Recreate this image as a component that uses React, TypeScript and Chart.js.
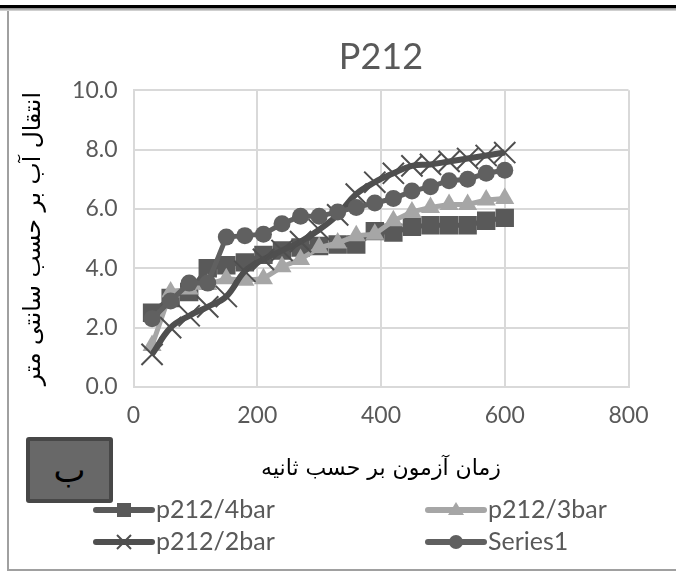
import React, { useEffect, useRef } from "react";
import { Chart, registerables } from "chart.js";

Chart.register(...registerables);

// ---- data ----
const times = [30, 60, 90, 120, 150, 180, 210, 240, 270, 300, 330, 360, 390, 420, 450, 480, 510, 540, 570, 600];
const p212_4bar = [2.5, 3.0, 3.2, 4.0, 4.1, 4.2, 4.45, 4.6, 4.7, 4.75, 4.8, 4.8, 5.25, 5.2, 5.4, 5.45, 5.45, 5.45, 5.6, 5.7];
const p212_3bar = [1.4, 3.2, 3.3, 3.45, 3.65, 3.6, 3.65, 4.05, 4.3, 4.7, 4.85, 5.1, 5.15, 5.6, 5.9, 6.05, 6.15, 6.15, 6.3, 6.35];
const p212_2bar = [1.1, 2.0, 2.4, 2.7, 3.05, 3.9, 4.3, 4.6, 4.9, 5.3, 5.8, 6.5, 6.9, 7.2, 7.45, 7.5, 7.6, 7.7, 7.8, 7.9];
const series1 = [2.3, 2.9, 3.5, 3.5, 5.05, 5.1, 5.15, 5.5, 5.75, 5.75, 5.9, 6.05, 6.2, 6.35, 6.6, 6.75, 6.95, 7.0, 7.2, 7.3];
const seriesNames = ["p212/4bar", "p212/3bar", "p212/2bar", "Series1"];
const xTicks = [0, 200, 400, 600, 800];
const yTicks = [0, 2, 4, 6, 8, 10];
const chartTitle = "P212";
const xTitle = "زمان آزمون بر حسب ثانیه";
const yTitle = "انتقال آب بر حسب سانتی متر";
const boxLabel = "ب";

const LATIN = "Lato, 'Open Sans', sans-serif";
const PERSIAN = "'DejaVu Sans', 'Noto Sans', sans-serif";

const toPoints = (ys: number[]) => times.map((t, i) => ({ x: t, y: ys[i] }));

const legendPlugin = {
  id: "cornerLegend",
  afterDraw(chart: any) {
    const ctx = chart.ctx as CanvasRenderingContext2D;
    const cols = [93, 425];
    const rows = [510, 542];
    const lineLen = 62;
    chart.data.datasets.forEach((ds: any, i: number) => {
      const x0 = cols[i % 2];
      const y = rows[Math.floor(i / 2)];
      const color = ds.borderColor;
      ctx.save();
      ctx.strokeStyle = color;
      ctx.lineWidth = 6;
      ctx.lineCap = "round";
      ctx.beginPath();
      ctx.moveTo(x0 + 3, y);
      ctx.lineTo(x0 + lineLen - 3, y);
      ctx.stroke();
      const cx = x0 + lineLen / 2;
      ctx.fillStyle = ds.pointBackgroundColor;
      const style = ds.pointStyle;
      if (style === "rect") {
        ctx.fillRect(cx - 7, y - 7, 14, 14);
      } else if (style === "triangle") {
        ctx.beginPath();
        ctx.moveTo(cx, y - 8);
        ctx.lineTo(cx + 8, y + 5);
        ctx.lineTo(cx - 8, y + 5);
        ctx.closePath();
        ctx.fill();
      } else if (style === "circle") {
        ctx.beginPath();
        ctx.arc(cx, y, 7, 0, Math.PI * 2);
        ctx.fill();
      } else if (style === "crossRot") {
        ctx.lineWidth = 2;
        ctx.lineCap = "butt";
        ctx.beginPath();
        ctx.moveTo(cx - 7, y - 7);
        ctx.lineTo(cx + 7, y + 7);
        ctx.moveTo(cx + 7, y - 7);
        ctx.lineTo(cx - 7, y + 7);
        ctx.stroke();
      }
      ctx.fillStyle = "#595959";
      ctx.font = `25px ${LATIN}`;
      ctx.textBaseline = "middle";
      ctx.textAlign = "left";
      ctx.fillText(ds.label, x0 + lineLen + 1, y);
      ctx.restore();
    });
  },
};

export default function App() {
  const canvasRef = useRef<HTMLCanvasElement | null>(null);

  useEffect(() => {
    if (!canvasRef.current) return;
    const chart = new Chart(canvasRef.current, {
      type: "line",
      data: {
        datasets: [
          {
            label: seriesNames[0],
            data: toPoints(p212_4bar),
            borderColor: "#595959",
            backgroundColor: "#595959",
            pointBackgroundColor: "#595959",
            pointBorderColor: "#595959",
            pointStyle: "rect",
            pointRadius: 13,
            pointBorderWidth: 0,
            borderWidth: 5,
            tension: 0,
            order: 4,
          },
          {
            label: seriesNames[1],
            data: toPoints(p212_3bar),
            borderColor: "#a6a6a6",
            backgroundColor: "#a6a6a6",
            pointBackgroundColor: "#a6a6a6",
            pointBorderColor: "#a6a6a6",
            pointStyle: "triangle",
            pointRadius: 11,
            pointBorderWidth: 0,
            borderWidth: 5,
            tension: 0,
            order: 3,
          },
          {
            label: seriesNames[2],
            data: toPoints(p212_2bar),
            borderColor: "#4f4f4f",
            backgroundColor: "#4f4f4f",
            pointBackgroundColor: "#4f4f4f",
            pointBorderColor: "#4f4f4f",
            pointStyle: "crossRot",
            pointRadius: 15,
            pointBorderWidth: 2,
            borderWidth: 6,
            tension: 0.4,
            order: 2,
          },
          {
            label: seriesNames[3],
            data: toPoints(series1),
            borderColor: "#606060",
            backgroundColor: "#606060",
            pointBackgroundColor: "#606060",
            pointBorderColor: "#606060",
            pointStyle: "circle",
            pointRadius: 8.5,
            pointBorderWidth: 0,
            borderWidth: 5,
            tension: 0,
            order: 1,
          },
        ],
      },
      options: {
        animation: false,
        responsive: false,
        devicePixelRatio: 1,
        layout: { padding: { left: 10, right: 47.5, top: 12, bottom: 91 } },
        plugins: {
          legend: { display: false },
          tooltip: { enabled: false },
          title: {
            display: true,
            text: chartTitle,
            fullSize: false,
            color: "#595959",
            font: { family: LATIN, size: 36, weight: "normal" },
            padding: { top: 24, bottom: 11 },
          },
        },
        scales: {
          x: {
            type: "linear",
            min: 0,
            max: 800,
            afterBuildTicks: (s: any) => {
              s.ticks = xTicks.map((v) => ({ value: v }));
            },
            afterFit: (s: any) => {
              s.height = 95;
            },
            ticks: {
              color: "#595959",
              font: { family: LATIN, size: 23 },
              padding: 15,
            },
            grid: { color: "#d9d9d9", lineWidth: 2, drawTicks: false },
            border: { display: true, color: "#d9d9d9", width: 2 },
            title: {
              display: true,
              text: xTitle,
              color: "#000",
              font: { family: PERSIAN, size: 22 },
              padding: { top: 0, bottom: 0 },
            },
          },
          y: {
            type: "linear",
            min: 0,
            max: 10,
            afterBuildTicks: (s: any) => {
              s.ticks = yTicks.map((v) => ({ value: v }));
            },
            afterFit: (s: any) => {
              s.width = 123.5;
            },
            ticks: {
              color: "#595959",
              font: { family: LATIN, size: 23 },
              padding: 16,
              callback: (v: any) => Number(v).toFixed(1),
            },
            grid: { color: "#d9d9d9", lineWidth: 2, drawTicks: false },
            border: { display: true, color: "#d9d9d9", width: 2 },
            title: {
              display: true,
              text: yTitle,
              color: "#000",
              font: { family: PERSIAN, size: 23.5 },
              padding: { top: 10, bottom: 0 },
            },
          },
        },
      },
      plugins: [legendPlugin],
    } as any);
    return () => chart.destroy();
  }, []);

  return (
    <div style={{ position: "absolute", left: 0, top: 0, width: 676, height: 573, background: "#fff", overflow: "hidden" }}>
      <canvas ref={canvasRef} width={676} height={573} style={{ display: "block", position: "absolute", left: 0, top: 0 }} />
      <div style={{ position: "absolute", left: 0, top: 5, width: 676, height: 3, background: "#000" }} />
      <div style={{ position: "absolute", left: 0, top: 8, width: 676, height: 3, background: "linear-gradient(#888, #ddd)" }} />
      <div style={{ position: "absolute", left: 7, top: 11, width: 2, height: 560, background: "#a0a0a0" }} />
      <div style={{ position: "absolute", left: 7, top: 569, width: 669, height: 2, background: "#a0a0a0" }} />
      <div
        style={{
          position: "absolute",
          left: 26,
          top: 437,
          width: 87,
          height: 66,
          boxSizing: "border-box",
          background: "#686868",
          border: "4px solid #474747",
          borderRadius: 3,
          display: "flex",
          alignItems: "center",
          justifyContent: "center",
          fontFamily: PERSIAN,
          fontSize: 34,
          color: "#000",
          lineHeight: 1,
        }}
      >
        {boxLabel}
      </div>
    </div>
  );
}
